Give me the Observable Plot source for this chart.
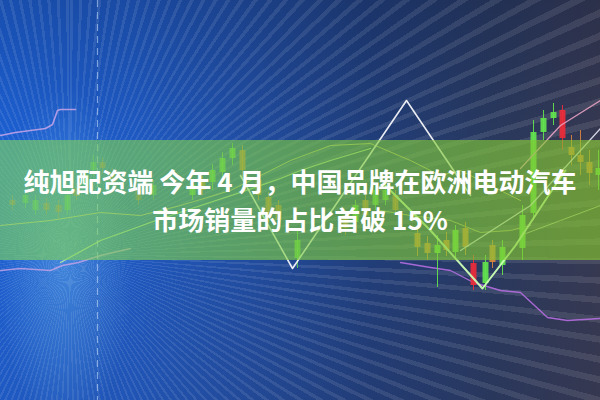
<!DOCTYPE html>
<html>
<head>
<meta charset="utf-8">
<script src="https://cdn.jsdelivr.net/npm/d3@7"></script>
<script src="https://cdn.jsdelivr.net/npm/@observablehq/plot@0.6"></script>
<style>
  html, body { margin: 0; padding: 0; background: #1b3f86; }
  #wrap {
    position: relative; width: 600px; height: 400px; overflow: hidden;
    background:
      repeating-conic-gradient(from 0deg at 70px 255px, rgba(255,255,255,0.09) 0deg 0.7deg, rgba(255,255,255,0) 0.7deg 2.1deg),
      radial-gradient(ellipse 90px 230px at 65px 260px, rgba(130,210,255,0.35), rgba(130,210,255,0) 75%),
      linear-gradient(180deg, rgba(10,20,50,0.25) 0%, rgba(10,20,50,0) 40%, rgba(40,40,70,0.15) 100%),
      linear-gradient(90deg, #1d62d8 0%, #1f5cc8 22%, #2150a8 40%, #213f7c 62%, #2a3a60 82%, #383a52 100%);
  }
  #chart { position: absolute; left: 0; top: 0; }
  #banner {
    position: absolute; left: 0; top: 140px; width: 600px; height: 120px;
    background: linear-gradient(90deg, rgba(125,215,90,0.62) 0%, rgba(125,205,60,0.62) 50%, rgba(135,200,45,0.64) 100%);
  }
  #title {
    position: absolute; left: 0; top: 162px; width: 600px; text-align: center;
    font-family: "Noto Sans CJK SC", "Noto Sans", sans-serif; font-weight: 700;
    font-size: 26px; line-height: 38px; letter-spacing: 0px; color: #ffffff;
    white-space: nowrap;
  }
</style>
</head>
<body>
<div id="wrap">
  <div id="chart"></div>
  <div id="banner"></div>
  <div id="title">纯旭配资端 今年 4 月，中国品牌在欧洲电动汽车<br>市场销量的占比首破 15%</div>
</div>
<script>
// Candlesticks: time index, open, close, low, high
const candleT     = [1.2, 2.5, 3.5, 4.6, 5.8, 6.7, 7.6, 8.5, 9.3, 10.2, 11.2, 13.8, 15.3, 19.2, 20.2, 21.2, 22.2, 23.2, 24.2, 25.8, 26.8, 27.8, 29.7, 34.5, 35.5, 36.5, 37.5, 38.5, 39.5, 41.7, 42.7, 43.7, 44.6, 45.5, 46.5, 47.3, 48.5, 49.2, 50.2, 52.2, 53.3, 54.3, 55.3, 56.2, 57.1, 58.0, 58.9, 59.8];
const candleOpen  = [50, 49.25, 47.5, 49.25, 48.75, 47.5, 53, 53.75, 57.5, 59.5, 57, 52.5, 51.25, 51.25, 55, 54.5, 57, 60.5, 62.5, 55, 50.75, 48.75, 35.5, 46.25, 44.5, 50, 48.75, 50, 51.25, 41.75, 39.25, 36.75, 40, 37, 43, 34.25, 29.25, 38.75, 33.75, 38, 46.75, 67, 70.5, 72.5, 63.25, 61.25, 59.5, 56.25];
const candleClose = [48.75, 51.25, 50, 47.5, 47, 51.25, 51, 56.25, 59.5, 58, 54.5, 50, 53.75, 53.75, 52.5, 57.5, 60.5, 63, 57.5, 51.25, 45.75, 45, 40, 43, 48.75, 46.25, 52.5, 52.5, 47.5, 38.25, 36.75, 38.75, 37.5, 42.5, 38.25, 28.75, 34.5, 34.5, 38.25, 46.25, 67, 70.5, 72, 65.5, 61.25, 59.5, 56.75, 58];
const candleLow   = [47.5, 48, 46.25, 46.5, 45.5, 46.25, 50, 52.5, 56, 56.5, 53, 48.75, 50, 50, 51.25, 52.5, 55, 58.75, 55, 50, 44.5, 43, 33, 41.25, 43, 45, 47.5, 48.75, 46.25, 36, 35, 28.25, 36, 35, 36.25, 27.5, 27.5, 33, 31.25, 35, 45, 65, 68.75, 62.5, 58.75, 56.25, 53.75, 52.5];
const candleHigh  = [51.25, 52.5, 51.25, 50.5, 50, 52.5, 54.25, 57.5, 61.25, 60.75, 58, 53.5, 55, 55, 56, 59, 62, 64.25, 63.75, 56.25, 52, 50, 42.5, 47.5, 50, 51.25, 53.75, 53.75, 52.5, 43, 41, 41.25, 42, 43.75, 44.5, 36.25, 36.25, 40, 40, 48.75, 70, 72.5, 74.25, 73.75, 66.25, 67.5, 62.5, 62.5];
// candles that plunged sharply (drawn red)
const plungeT = [47.3, 56.2];

// Indicator lines: time index and price
const lavenderT = [0, 1.5, 4.5, 5.2, 5.7, 6.0, 7.5];
const lavenderP = [66.25, 67, 68, 69, 72.5, 72.75, 72.75];
const pinkLowT  = [0, 2, 5, 6.2, 7.8, 10, 13];
const pinkLowP  = [32.5, 33, 32.5, 33.75, 34.5, 36.25, 38];
const purpleT   = [40, 43, 45, 47.3, 50, 52, 54.7, 56.7, 60];
const purpleP   = [34.5, 33.25, 32.5, 29.5, 27.5, 27, 20.75, 20, 20.5];
const paleGreenT = [6, 10, 15, 20, 24, 28, 30, 33, 37];
const paleGreenP = [34.5, 40, 44.5, 48.75, 52, 55.5, 57.5, 60, 63];
const yellowT   = [0, 5, 10, 14, 18, 23, 26, 29, 33, 37, 41, 44, 46, 50, 52];
const yellowP   = [43.75, 45, 47, 46.25, 48.75, 52.5, 56.25, 60, 63.75, 64.25, 60, 56.25, 57.5, 52.5, 50];
const oliveT    = [38, 41, 45, 48, 51, 53];
const oliveP    = [47.5, 46.25, 45, 42, 42.5, 43.75];
const paleRiseT = [52, 56, 60];
const paleRiseP = [41.25, 45, 48.75];
const triangleT = [24, 29.2, 40.6, 47];
const triangleP = [56.25, 33, 75, 51.25];
const greenVT   = [38.5, 43, 48.2, 51.5, 54.8, 56.5];
const greenVP   = [53.75, 42.5, 28, 38.75, 51.25, 57.5];
const white2T   = [46, 53, 60];
const white2P   = [37.5, 48.75, 68];
const pinkHighT = [52, 56, 60];
const pinkHighP = [58, 68.75, 75];
const dashT     = [9.7];

const candles = candleT.map((t, i) => ({
  t, open: candleOpen[i], close: candleClose[i], low: candleLow[i], high: candleHigh[i],
  tone: candleClose[i] >= candleOpen[i] ? "up" : (plungeT.includes(t) ? "plunge" : "down")
}));
const pts = (T, P) => T.map((t, i) => ({t, p: P[i]}));

const toneColor = {up: "#62e34e", down: "#d8843e", plunge: "#ea2c3a"};
const fade = d => d.t < 16 ? 0.45 : d.t < 40 ? 0.75 : 0.92;

const chart = Plot.plot({
  width: 600, height: 400,
  margin: 0,
  style: {background: "transparent", overflow: "visible"},
  x: {domain: [0, 60], axis: null},
  y: {domain: [0, 100], axis: null},
  marks: [
    Plot.ruleX(dashT, {x: d => d, stroke: "#cfe6ff", strokeOpacity: 0.55, strokeWidth: 1.2, strokeDasharray: "7,5"}),
    Plot.line(pts(lavenderT, lavenderP), {x: "t", y: "p", stroke: "#caa6ea", strokeWidth: 1.6, strokeOpacity: 0.85}),
    Plot.line(pts(pinkLowT, pinkLowP), {x: "t", y: "p", stroke: "#c9a4e8", strokeWidth: 1.5, strokeOpacity: 0.8}),
    Plot.line(pts(purpleT, purpleP), {x: "t", y: "p", stroke: "#b56ee0", strokeWidth: 1.4, strokeOpacity: 0.9}),
    Plot.line(pts(yellowT, yellowP), {x: "t", y: "p", stroke: "#ece27a", strokeWidth: 1, strokeOpacity: 0.7}),
    Plot.line(pts(oliveT, oliveP), {x: "t", y: "p", stroke: "#d8e07a", strokeWidth: 1, strokeOpacity: 0.7}),
    Plot.line(pts(paleRiseT, paleRiseP), {x: "t", y: "p", stroke: "#d8f0b0", strokeWidth: 1, strokeOpacity: 0.7}),
    Plot.line(pts(paleGreenT, paleGreenP), {x: "t", y: "p", stroke: "#c8f6a0", strokeWidth: 1.3, strokeOpacity: 0.8}),
    Plot.ruleX(candles, {x: "t", y1: "low", y2: "high", stroke: d => toneColor[d.tone], strokeWidth: 1, strokeOpacity: fade}),
    Plot.ruleX(candles, {x: "t", y1: "open", y2: "close", stroke: d => toneColor[d.tone], strokeWidth: 6, strokeOpacity: fade}),
    Plot.line(pts(white2T, white2P), {x: "t", y: "p", stroke: "#f2f2ff", strokeWidth: 1.3, strokeOpacity: 0.85}),
    Plot.line(pts(pinkHighT, pinkHighP), {x: "t", y: "p", stroke: "#eaa2c4", strokeWidth: 1.3, strokeOpacity: 0.9}),
    Plot.line(pts(triangleT, triangleP), {x: "t", y: "p", stroke: "#ffffff", strokeWidth: 1.6, strokeOpacity: 0.9}),
    Plot.line(pts(greenVT, greenVP), {x: "t", y: "p", stroke: "#ccffb4", strokeWidth: 2, strokeOpacity: 0.95})
  ]
});
document.getElementById("chart").appendChild(chart);
</script>
</body>
</html>
